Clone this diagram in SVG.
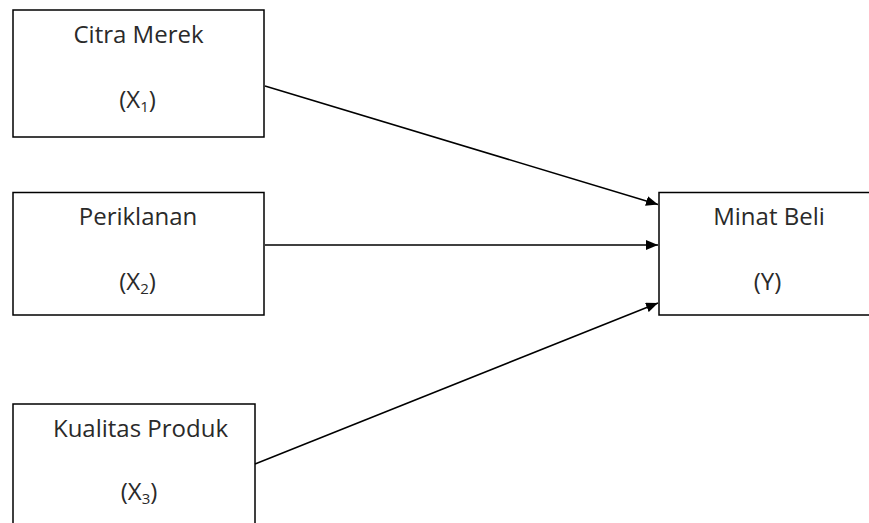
<svg xmlns="http://www.w3.org/2000/svg" width="869" height="523" viewBox="0 0 869 523">
<style>
.box{fill:#fff;stroke:#000;stroke-width:1.5}
.t{font-family:"Open Sans","Noto Sans","Liberation Sans",sans-serif;font-size:24px;fill:#2a2a2a;text-anchor:middle}
.sub{font-size:15px}
.c{stroke:#000;stroke-width:1.5;fill:none;marker-end:url(#ah)}
</style>
<defs>
<marker id="ah" markerWidth="12" markerHeight="10" refX="12" refY="5" orient="auto" markerUnits="userSpaceOnUse">
<path d="M0,0 L12,5 L0,10 Z" fill="#000"/>
</marker>
</defs>
<rect width="869" height="523" fill="#fff"/>
<g id="x1">
<rect class="box" x="13" y="10" width="251" height="127"/>
<text class="t" x="138.5" y="43">Citra Merek</text>
<text class="t" x="137.5" y="108">(X<tspan class="sub" dy="4">1</tspan><tspan dy="-4">)</tspan></text>
</g>
<g id="x2">
<rect class="box" x="13" y="192.5" width="251" height="122.5"/>
<text class="t" x="138" y="225">Periklanan</text>
<text class="t" x="137.5" y="290">(X<tspan class="sub" dy="4">2</tspan><tspan dy="-4">)</tspan></text>
</g>
<g id="x3">
<rect class="box" x="13" y="404" width="242" height="130"/>
<text class="t" x="140.5" y="437">Kualitas Produk</text>
<text class="t" x="139" y="500">(X<tspan class="sub" dy="4">3</tspan><tspan dy="-4">)</tspan></text>
</g>
<g id="y">
<rect class="box" x="659" y="192.5" width="220" height="122.5"/>
<text class="t" x="769" y="225">Minat Beli</text>
<text class="t" x="767.5" y="290">(Y)</text>
</g>
<g id="connectors">
<line class="c" x1="265" y1="86" x2="658" y2="204.5"/>
<line class="c" x1="265" y1="245" x2="658" y2="245"/>
<line class="c" x1="255" y1="464" x2="658" y2="303"/>
</g>
</svg>
